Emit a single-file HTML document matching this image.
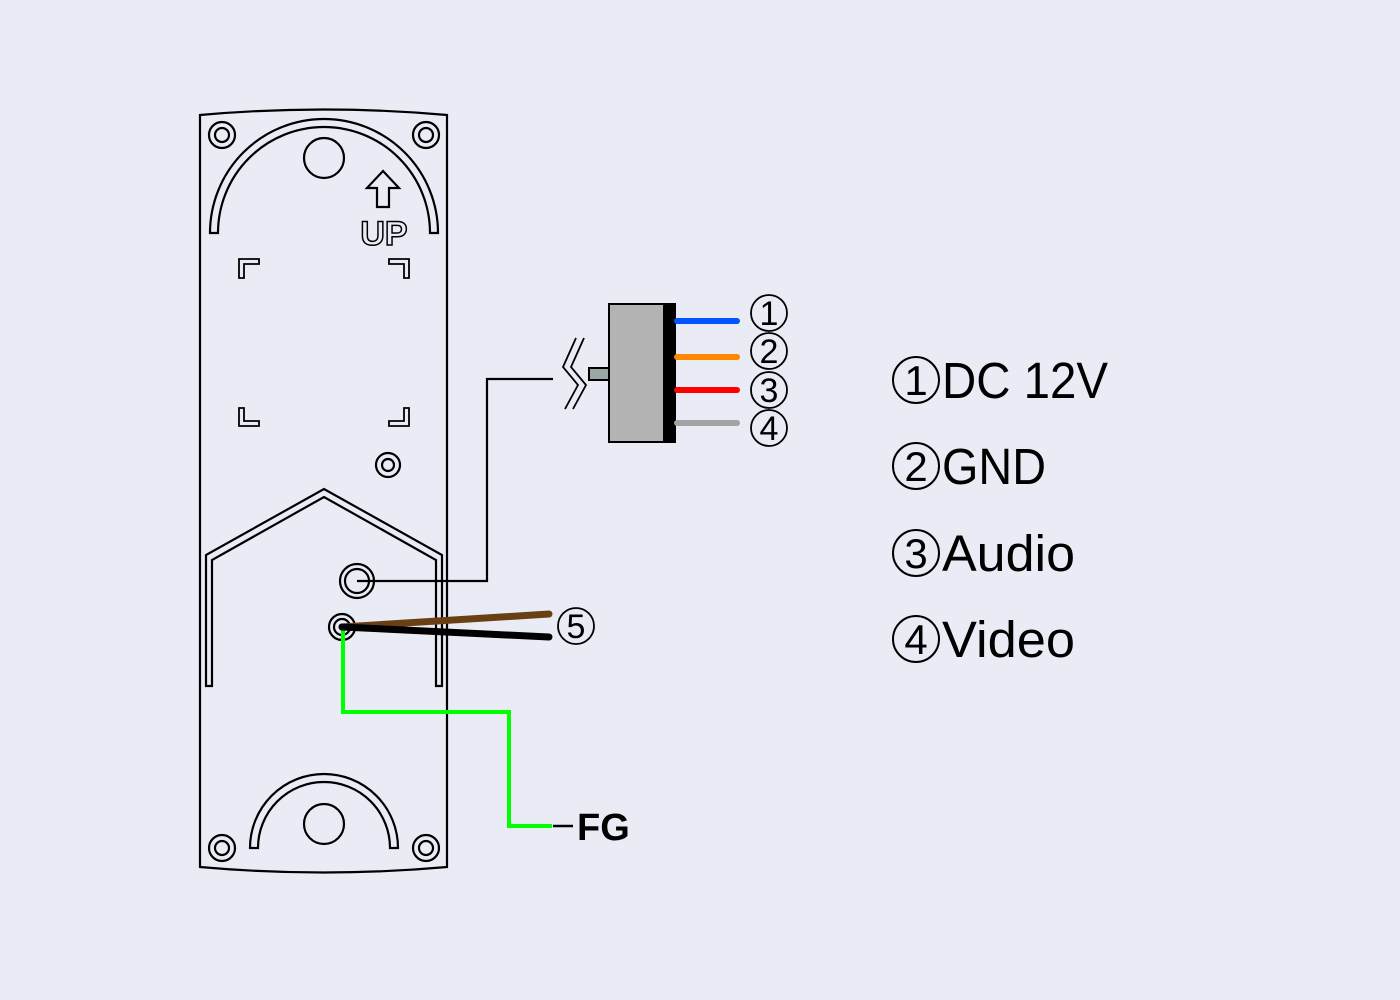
<!DOCTYPE html>
<html><head><meta charset="utf-8"><style>
html,body{margin:0;padding:0;background:#e9ecf5;}
svg{display:block;}
text{font-family:"Liberation Sans",sans-serif;}
</style></head><body>
<svg width="1400" height="1000" viewBox="0 0 1400 1000" xmlns="http://www.w3.org/2000/svg">
<rect width="1400" height="1000" fill="#e9ecf5"/>
<g fill="none" stroke="#000" stroke-width="2.2">
<path d="M200,115 Q324,104 447,115 L447,867 Q324,878 200,867 Z"/>
<path d="M210,233 A114,114 0 0 1 438,233 L430,233 A106,106 0 0 0 218,233 Z"/>
<circle cx="324" cy="158" r="20"/>
<circle cx="222" cy="135" r="13"/><circle cx="222" cy="135" r="7"/>
<circle cx="426" cy="135" r="13"/><circle cx="426" cy="135" r="7"/>
<circle cx="222" cy="848" r="13"/><circle cx="222" cy="848" r="7"/>
<circle cx="426" cy="848" r="13"/><circle cx="426" cy="848" r="7"/>
<circle cx="388" cy="465" r="12"/><circle cx="388" cy="465" r="6"/>
<path d="M250,848 A74,74 0 0 1 398,848 L390,848 A66,66 0 0 0 258,848 Z"/>
<circle cx="324" cy="824" r="20"/>
<path d="M383,171 L399,188 L389,188 L389,207 L377,207 L377,188 L367,188 Z"/>
<path d="M239,278 L239,259 L259,259 L259,264 L244,264 L244,278 Z" stroke-width="1.8"/>
<path d="M409,278 L409,259 L389,259 L389,264 L404,264 L404,278 Z" stroke-width="1.8"/>
<path d="M239,408 L239,426 L259,426 L259,421 L244,421 L244,408 Z" stroke-width="1.8"/>
<path d="M409,408 L409,426 L389,426 L389,421 L404,421 L404,408 Z" stroke-width="1.8"/>
<path d="M206,686 L206,555 L324,489 L442,555 L442,686 L436,686 L436,560 L324,497 L212,560 L212,686 Z"/>
<circle cx="357" cy="581" r="17"/><circle cx="357" cy="581" r="12"/>
<circle cx="342" cy="627" r="13"/><circle cx="342" cy="627" r="8"/>
<path d="M357,581 L487,581 L487,379 L553,379"/>
<path d="M576,338 L563,367 L578,385 L565,409 M584,338 L571,367 L586,385 L573,409" stroke-width="1.8"/>
</g>
<rect x="589" y="368" width="20" height="12" fill="#9aa8a4" stroke="#000" stroke-width="2"/>
<rect x="609" y="304" width="66" height="138" fill="#b3b3b3" stroke="#000" stroke-width="2"/>
<rect x="663" y="304" width="13" height="138" fill="#000"/>
<g stroke-width="6" stroke-linecap="round">
<line x1="677" y1="321" x2="737" y2="321" stroke="#0055ff"/>
<line x1="677" y1="357" x2="737" y2="357" stroke="#ff8800"/>
<line x1="677" y1="390" x2="737" y2="390" stroke="#ff0000"/>
<line x1="677" y1="423" x2="737" y2="423" stroke="#a3a3a3"/>
</g>
<g fill="none" stroke="#000" stroke-width="1.8">
<circle cx="769" cy="313" r="18"/><circle cx="769" cy="351" r="18"/>
<circle cx="769" cy="390" r="18"/><circle cx="769" cy="428" r="18"/>
<circle cx="576" cy="626" r="18"/>
</g>
<g font-size="34" text-anchor="middle">
<text x="769" y="325">1</text><text x="769" y="363">2</text>
<text x="769" y="402">3</text><text x="769" y="440">4</text>
<text x="576" y="638">5</text>
</g>
<polyline points="343,627 343,712 509,712 509,826 552,826" fill="none" stroke="#00ff00" stroke-width="4"/>
<line x1="342" y1="627" x2="549" y2="614" stroke="#6b3f14" stroke-width="7" stroke-linecap="round"/>
<line x1="342" y1="627" x2="549" y2="637" stroke="#000" stroke-width="7" stroke-linecap="round"/>
<line x1="553" y1="826" x2="573" y2="826" stroke="#000" stroke-width="2.5"/>
<text x="577" y="840" font-size="38" font-weight="bold">FG</text>
<text x="384" y="245" font-size="34" font-weight="bold" text-anchor="middle" fill="#e9ecf5" stroke="#000" stroke-width="1.5">UP</text>
<g fill="none" stroke="#000" stroke-width="2">
<circle cx="916" cy="380" r="23"/><circle cx="916" cy="466" r="23"/>
<circle cx="916" cy="553" r="23"/><circle cx="916" cy="639" r="23"/>
</g>
<g font-size="42" text-anchor="middle">
<text x="916" y="395">1</text><text x="916" y="481">2</text>
<text x="916" y="568">3</text><text x="916" y="654">4</text>
</g>
<g font-size="51">
<text x="942" y="398" textLength="166" lengthAdjust="spacingAndGlyphs">DC 12V</text>
<text x="942" y="484" textLength="104" lengthAdjust="spacingAndGlyphs">GND</text>
<text x="942" y="571" textLength="133" lengthAdjust="spacingAndGlyphs">Audio</text>
<text x="942" y="657" textLength="133" lengthAdjust="spacingAndGlyphs">Video</text>
</g>
</svg>
</body></html>
